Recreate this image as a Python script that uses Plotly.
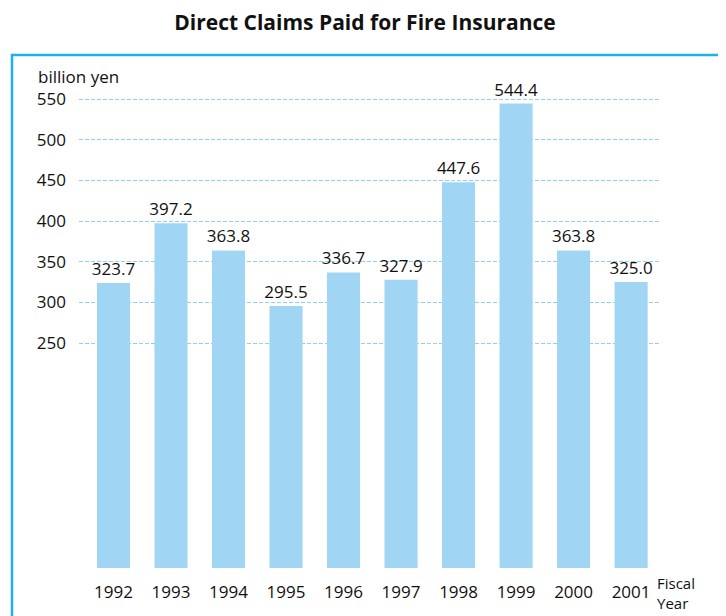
import plotly.graph_objects as go

years = ["1992", "1993", "1994", "1995", "1996", "1997", "1998", "1999", "2000", "2001"]
claims = [323.7, 397.2, 363.8, 295.5, 336.7, 327.9, 447.6, 544.4, 363.8, 325.0]
y_ticks = [250, 300, 350, 400, 450, 500, 550]

OFF = 8  # page body margin in the browser
W, H = 726 - OFF, 616 - OFF
L, R, T, B = 79 - OFF, 661 - OFF, 90 - OFF, 568 - OFF  # plot area in figure pixels

def px(x):
    return (x - OFF - L) / (R - L)

def py(y):
    return (B - (y - OFF)) / (B - T)

scale = (343 - 99) / 300  # pixels per unit
ymin = 250 - (568 - 343) / scale
ymax = 550 + (99 - 90) / scale

fig = go.Figure()
fig.add_trace(go.Bar(
    x=list(range(len(years))), y=[v - ymin for v in claims], base=ymin,
    marker=dict(color="#a0d6f3", line=dict(width=0)),
    width=0.575,
    text=[f"{v:.1f}" for v in claims], textposition="outside",
    constraintext="none",
    textfont=dict(size=17, color="#111111", family="Open Sans"),
    cliponaxis=False,
))

fig.update_layout(
    width=W, height=H,
    margin=dict(l=L, r=W - R, t=T, b=H - B),
    paper_bgcolor="white", plot_bgcolor="white",
    showlegend=False,
    font=dict(family="Open Sans", size=17, color="#111111"),
    title=dict(text="<b>Direct Claims Paid for Fire Insurance</b>", x=(365 - OFF) / W, xanchor="center",
               y=1 - (23 - OFF) / H, yanchor="middle", font=dict(size=21, family="Open Sans")),
    xaxis=dict(range=[-0.6, 9.52], tickvals=list(range(len(years))), ticktext=years,
               showgrid=False, zeroline=False, showline=False, ticks="", ticklabelstandoff=12),
    yaxis=dict(range=[ymin, ymax], tickvals=y_ticks, showgrid=True, gridcolor="#8fd2f0",
               griddash="4px,2px", gridwidth=1.3, zeroline=False, showline=False, ticks="",
               ticklabelstandoff=12),
    shapes=[dict(type="rect", xref="paper", yref="paper",
                 x0=px(12), x1=px(740), y0=py(630), y1=py(55),
                 line=dict(color="#1eb0ea", width=2.5), layer="below")],
    annotations=[
        dict(text="billion yen", xref="paper", yref="paper", x=px(36), y=py(76),
             xanchor="left", yanchor="middle", showarrow=False, font=dict(size=17)),
        dict(text="Fiscal<br>Year", xref="paper", yref="paper", x=px(656), y=py(593),
             xanchor="left", yanchor="middle", showarrow=False, borderpad=0, align="left",
             font=dict(size=15)),
    ],
)

fig.write_html("out.html")
